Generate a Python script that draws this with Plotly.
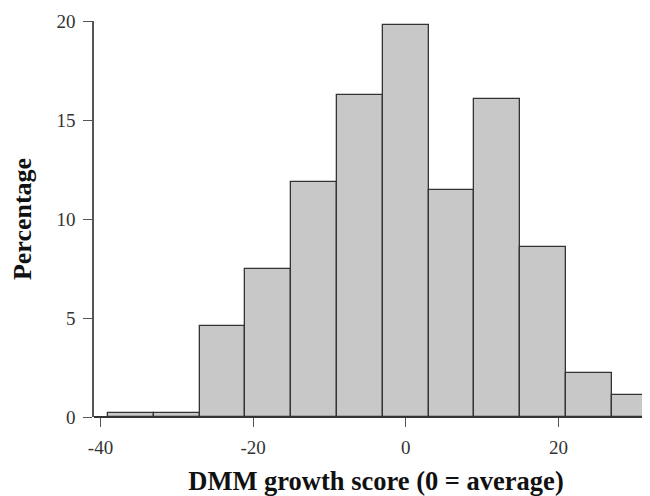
import plotly.graph_objects as go

bin_edges = [-39, -33, -27, -21, -15, -9, -3, 3, 9, 15, 21, 27, 33]
percentages = [0.22, 0.22, 4.61, 7.49, 11.88, 16.28, 19.81, 11.45, 16.08, 8.59, 2.2, 1.11]
x_ticks = [-40, -20, 0, 20]
y_ticks = [0, 5, 10, 15, 20]

centers = [(bin_edges[i] + bin_edges[i + 1]) / 2 for i in range(len(percentages))]
widths = [bin_edges[i + 1] - bin_edges[i] for i in range(len(percentages))]

font_family = "Liberation Serif"

fig = go.Figure(
    go.Bar(
        x=centers,
        y=percentages,
        width=widths,
        marker=dict(color="#c8c8c8", line=dict(color="#333333", width=1.3)),
        showlegend=False,
    )
)

# page body has an 8px margin; compensate so the plot sits where the reference does
fig.update_layout(
    width=650,
    height=488,
    margin=dict(l=86, r=0, t=13, b=79, autoexpand=False),
    plot_bgcolor="white",
    paper_bgcolor="white",
    font=dict(family=font_family, color="#333333", size=19),
    bargap=0,
)

fig.update_xaxes(
    range=[-40.85, 33.05],
    tickvals=x_ticks,
    ticktext=[str(v) for v in x_ticks],
    ticks="outside",
    ticklen=9,
    tickcolor="#555555",
    tickwidth=1.3,
    ticklabelstandoff=4,
    showline=False,
    showgrid=False,
    zeroline=False,
    title=dict(
        text="<b>DMM growth score (0 = average)</b>",
        font=dict(family=font_family, size=26.5, color="#111111"),
        standoff=15,
    ),
)

fig.update_yaxes(
    range=[0, 20],
    tickvals=y_ticks,
    ticktext=[str(v) for v in y_ticks],
    ticks="outside",
    ticklen=9,
    tickcolor="#555555",
    tickwidth=1.3,
    ticklabelstandoff=4,
    showline=True,
    linecolor="#555555",
    linewidth=1.5,
    showgrid=False,
    zeroline=True,
    zerolinecolor="#333333",
    zerolinewidth=1.5,
    title=dict(
        text="<b>Percentage</b>",
        font=dict(family=font_family, size=26, color="#111111"),
        standoff=19,
    ),
)

fig.write_html("out.html")
